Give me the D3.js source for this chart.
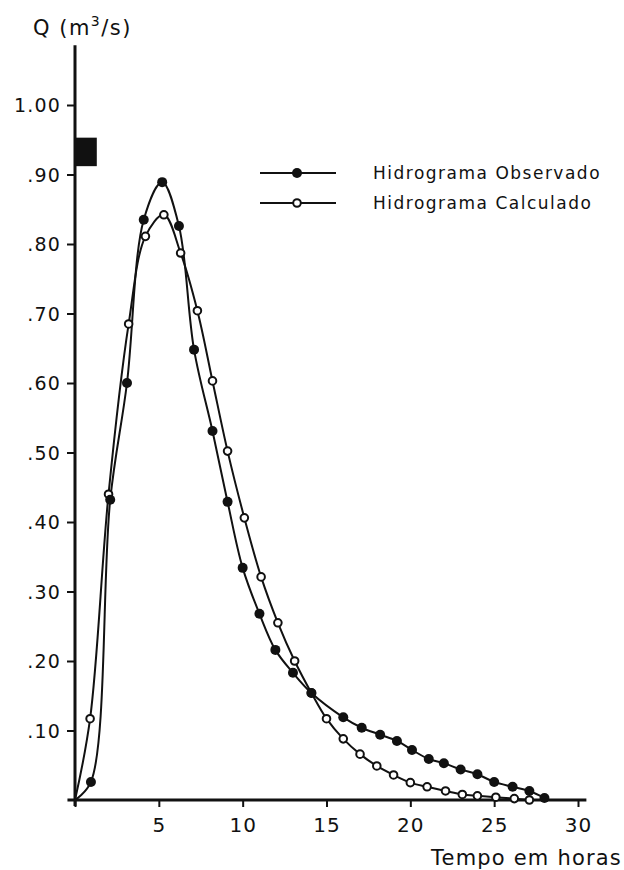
<!DOCTYPE html>
<html>
<head>
<meta charset="utf-8">
<script src="https://cdn.jsdelivr.net/npm/d3@7"></script>
<style>
  body { margin: 0; background: #fff; }
  svg text { font-family: "DejaVu Sans", sans-serif; fill: #111; }
</style>
</head>
<body>
<div id="chart"></div>
<script>
var width = 624, height = 870;

// hidrograma observado (pontos cheios)
var obsT = [0, 0.95, 2.1, 3.1, 4.1, 5.2, 6.2, 7.1, 8.2, 9.1, 10.0, 11.0, 11.95, 13.0, 14.1,
            16.0, 17.1, 18.2, 19.2, 20.1, 21.1, 22.0, 23.0, 24.0, 25.0, 26.1, 27.1, 28.0];
var obsQ = [0, 0.026, 0.432, 0.60, 0.835, 0.889, 0.826, 0.648, 0.531, 0.429, 0.334, 0.268, 0.216, 0.183, 0.154,
            0.119, 0.104, 0.094, 0.085, 0.072, 0.059, 0.053, 0.044, 0.037, 0.026, 0.019, 0.013, 0.003];

// hidrograma calculado (pontos vazios)
var calcT = [0, 0.9, 2.0, 3.2, 4.2, 5.3, 6.3, 7.3, 8.2, 9.1, 10.1, 11.1, 12.1, 13.1, 14.1,
             15.0, 16.0, 17.0, 18.0, 19.0, 20.0, 21.0, 22.1, 23.1, 24.0, 25.1, 26.2, 27.1];
var calcQ = [0, 0.117, 0.44, 0.685, 0.811, 0.842, 0.787, 0.704, 0.603, 0.502, 0.406, 0.321, 0.255, 0.200, 0.154,
             0.117, 0.088, 0.066, 0.049, 0.036, 0.025, 0.019, 0.013, 0.008, 0.006, 0.004, 0.002, 0.0];

// bloco de chuva
var rainT = [0, 1.3];
var rainQ = [0.912, 0.953];

var yTicks = [0.1, 0.2, 0.3, 0.4, 0.5, 0.6, 0.7, 0.8, 0.9, 1.0];
var xTicks = [0, 5, 10, 15, 20, 25, 30];
var seriesNames = ["Hidrograma Observado", "Hidrograma Calculado"];

var svg = d3.select("#chart").append("svg")
    .attr("width", width)
    .attr("height", height);

var x = d3.scaleLinear().domain([0, 30]).range([75, 578]);
var y = d3.scaleLinear().domain([0, 1]).range([800, 105]);

// eixo y
var yAxis = d3.axisLeft(y)
    .tickValues(yTicks)
    .tickSize(8)
    .tickPadding(6)
    .tickFormat(function (d) {
        if (d == 1) return "1.00";
        return d3.format(".2f")(d).slice(1);
    });
var gy = svg.append("g").attr("transform", "translate(" + x(0) + ",0)").call(yAxis);
gy.select(".domain").remove();
gy.selectAll("line").attr("stroke", "#111").attr("stroke-width", 2);
gy.selectAll("text").style("font-size", "19px").style("letter-spacing", "1.2px").attr("dy", "0.35em");

// eixo x
var xAxis = d3.axisBottom(x)
    .tickValues(xTicks)
    .tickSize(7)
    .tickPadding(11)
    .tickFormat(function (d) { return d == 0 ? "" : d; });
var gx = svg.append("g").attr("transform", "translate(0," + y(0) + ")").call(xAxis);
gx.select(".domain").remove();
gx.selectAll("line").attr("stroke", "#111").attr("stroke-width", 2);
gx.selectAll("text").style("font-size", "20px").style("letter-spacing", "1px");

svg.append("line")
    .attr("x1", x(0)).attr("x2", x(0))
    .attr("y1", y(0) + 6).attr("y2", y(1.086))
    .attr("stroke", "#111").attr("stroke-width", 3);
svg.append("line")
    .attr("x1", x(-0.45)).attr("x2", x(30.5))
    .attr("y1", y(0)).attr("y2", y(0))
    .attr("stroke", "#111").attr("stroke-width", 3);

// titulos dos eixos
var title = svg.append("text")
    .attr("x", 33).attr("y", 35)
    .style("font-size", "21px")
    .style("letter-spacing", "1.5px");
title.append("tspan").text("Q (m");
title.append("tspan").attr("dy", -9).style("font-size", "14px").text("3");
title.append("tspan").attr("dy", 9).text("/s)");

svg.append("text")
    .attr("x", 622).attr("y", 865)
    .attr("text-anchor", "end")
    .style("font-size", "21px")
    .style("letter-spacing", "1.2px")
    .text("Tempo em horas");

// bloco de chuva
svg.append("rect")
    .attr("x", x(rainT[0]))
    .attr("y", y(rainQ[1]))
    .attr("width", x(rainT[1]) - x(rainT[0]))
    .attr("height", y(rainQ[0]) - y(rainQ[1]))
    .attr("fill", "#111");

var line = d3.line()
    .x(function (d) { return x(d[0]); })
    .y(function (d) { return y(d[1]); })
    .curve(d3.curveCatmullRom.alpha(0.5));

var obs = d3.zip(obsT, obsQ);
var calc = d3.zip(calcT, calcQ);

svg.append("path").datum(calc)
    .attr("d", line).attr("fill", "none")
    .attr("stroke", "#111").attr("stroke-width", 2);
svg.append("path").datum(obs)
    .attr("d", line).attr("fill", "none")
    .attr("stroke", "#111").attr("stroke-width", 2);

svg.append("g").selectAll("circle")
    .data(calc.slice(1)).enter()
    .append("circle")
    .attr("cx", function (d) { return x(d[0]); })
    .attr("cy", function (d) { return y(d[1]); })
    .attr("r", 3.8)
    .attr("fill", "#fff")
    .attr("stroke", "#111")
    .attr("stroke-width", 2);

svg.append("g").selectAll("circle")
    .data(obs.slice(1)).enter()
    .append("circle")
    .attr("cx", function (d) { return x(d[0]); })
    .attr("cy", function (d) { return y(d[1]); })
    .attr("r", 5)
    .attr("fill", "#111");

// legenda
var legend = svg.append("g").selectAll("g")
    .data(seriesNames).enter()
    .append("g")
    .attr("transform", function (d, i) { return "translate(0," + (173 + i * 30) + ")"; });

legend.append("line")
    .attr("x1", 260).attr("x2", 336)
    .attr("y1", 0).attr("y2", 0)
    .attr("stroke", "#111").attr("stroke-width", 2);

legend.append("circle")
    .attr("cx", 297).attr("cy", 0)
    .attr("r", function (d, i) { return i == 0 ? 5 : 3.8; })
    .attr("fill", function (d, i) { return i == 0 ? "#111" : "#fff"; })
    .attr("stroke", "#111")
    .attr("stroke-width", function (d, i) { return i == 0 ? 0 : 2; });

legend.append("text")
    .attr("x", 373).attr("y", 0)
    .attr("dy", "0.35em")
    .style("font-size", "17px")
    .style("letter-spacing", "1.5px")
    .text(function (d) { return d; });
</script>
</body>
</html>
